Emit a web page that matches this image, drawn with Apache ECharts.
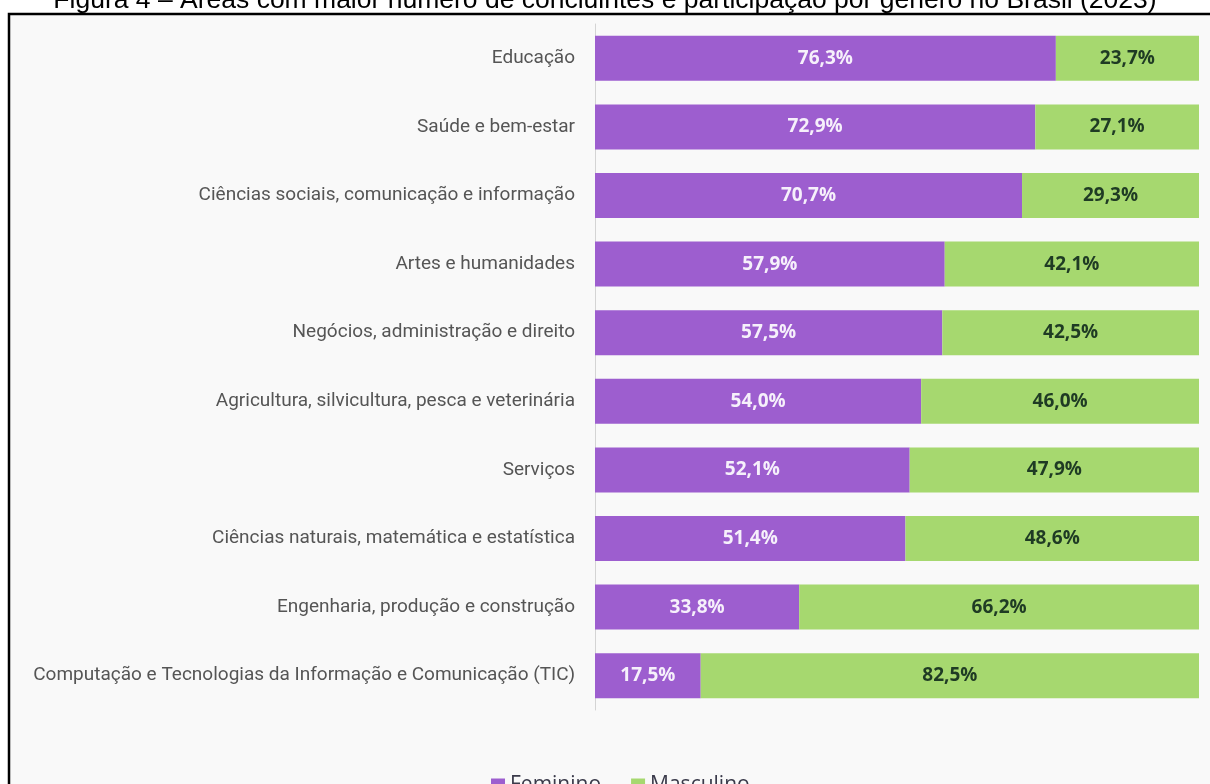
<!DOCTYPE html>
<html>
<head>
<meta charset="utf-8">
<script src="https://cdn.jsdelivr.net/npm/echarts@6/dist/echarts.min.js"></script>
<style>
html,body{margin:0;padding:0;background:#ffffff;}
#chart{width:1210px;height:784px;}
</style>
</head>
<body>
<div id="chart"></div>
<script>
const titleText = 'Figura 4 – Áreas com maior número de concluintes e participação por gênero no Brasil (2023)';
const categories = [
  'Educação',
  'Saúde e bem-estar',
  'Ciências sociais, comunicação e informação',
  'Artes e humanidades',
  'Negócios, administração e direito',
  'Agricultura, silvicultura, pesca e veterinária',
  'Serviços',
  'Ciências naturais, matemática e estatística',
  'Engenharia, produção e construção',
  'Computação e Tecnologias da Informação e Comunicação (TIC)'
];
const feminino = [76.3, 72.9, 70.7, 57.9, 57.5, 54.0, 52.1, 51.4, 33.8, 17.5];
const masculino = [23.7, 27.1, 29.3, 42.1, 42.5, 46.0, 47.9, 48.6, 66.2, 82.5];
const seriesNames = ['Feminino', 'Masculino'];

const fmt = p => p.value.toFixed(1).replace('.', ',') + '%';
const chart = echarts.init(document.getElementById('chart'), null, {renderer: 'canvas'});
chart.setOption({
  backgroundColor: '#ffffff',
  animation: false,
  title: {
    text: titleText,
    left: 'center',
    top: -18,
    textStyle: {fontFamily: 'Liberation Sans, Arial, sans-serif', fontSize: 26.5, fontWeight: 'normal', color: '#000'}
  },
  graphic: [
    {type: 'rect', z: -10, shape: {x: 9, y: 14, width: 1300, height: 900}, style: {fill: '#f9f9f9', stroke: '#000', lineWidth: 2.5}}
  ],
  legend: {
    data: seriesNames,
    left: 486,
    top: 770,
    icon: 'rect',
    itemWidth: 14,
    itemHeight: 14,
    itemGap: 30,
    textStyle: {fontFamily: 'Open Sans, sans-serif', fontSize: 21, color: '#3a3a4a'}
  },
  grid: {left: 595, right: 11, top: 24, height: 686},
  xAxis: {type: 'value', min: 0, max: 100, show: false},
  yAxis: {
    type: 'category',
    data: categories,
    inverse: true,
    axisLine: {show: true, lineStyle: {color: '#d4d4d4', width: 1}},
    axisTick: {show: false},
    axisLabel: {margin: 20, fontFamily: 'Liberation Sans Narrow, Roboto, sans-serif', fontSize: 19, color: '#555'}
  },
  series: [
    {
      name: seriesNames[0], type: 'bar', stack: 'total', data: feminino, barWidth: 45,
      itemStyle: {color: '#9d5ecf'},
      label: {show: true, position: 'inside', formatter: fmt, fontFamily: 'Open Sans, sans-serif', fontWeight: 'bold', fontSize: 19, color: '#f6f0fb'}
    },
    {
      name: seriesNames[1], type: 'bar', stack: 'total', data: masculino, barWidth: 45,
      itemStyle: {color: '#a6d86f'},
      label: {show: true, position: 'inside', formatter: fmt, fontFamily: 'Open Sans, sans-serif', fontWeight: 'bold', fontSize: 19, color: '#1f3b24'}
    }
  ]
});
</script>
</body>
</html>
